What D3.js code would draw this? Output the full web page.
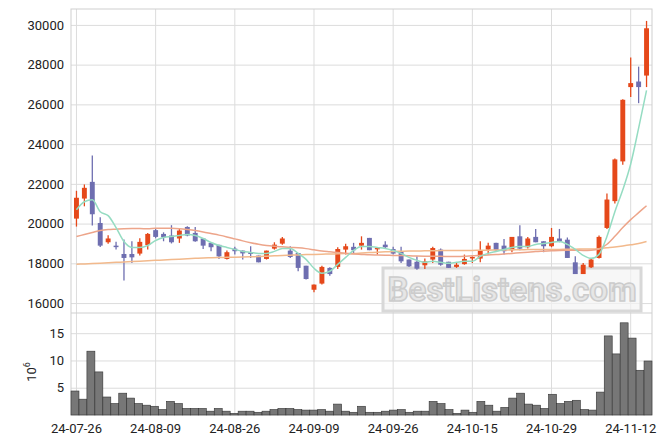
<!DOCTYPE html>
<html>
<head>
<meta charset="utf-8">
<script src="https://cdn.jsdelivr.net/npm/d3@7"></script>
<style>
  body { margin: 0; background: #fff; }
  svg { font-family: Roboto, "DejaVu Sans", sans-serif; }
</style>
</head>
<body>
<svg id="chart" width="671" height="444"></svg>
<script>
// --- Data ---
const dates = [
  "24-07-26","24-07-29","24-07-30","24-07-31","24-08-01","24-08-02","24-08-05","24-08-06","24-08-07","24-08-08",
  "24-08-09","24-08-12","24-08-13","24-08-14","24-08-16","24-08-19","24-08-20","24-08-21","24-08-22","24-08-23",
  "24-08-26","24-08-27","24-08-28","24-08-29","24-08-30","24-09-02","24-09-03","24-09-04","24-09-05","24-09-06",
  "24-09-09","24-09-10","24-09-11","24-09-12","24-09-13","24-09-19","24-09-20","24-09-23","24-09-24","24-09-25",
  "24-09-26","24-09-27","24-09-30","24-10-02","24-10-04","24-10-07","24-10-08","24-10-10","24-10-11","24-10-14",
  "24-10-15","24-10-16","24-10-17","24-10-18","24-10-21","24-10-22","24-10-23","24-10-24","24-10-25","24-10-28",
  "24-10-29","24-10-30","24-10-31","24-11-01","24-11-04","24-11-05","24-11-06","24-11-07","24-11-08","24-11-11",
  "24-11-12","24-11-13","24-11-14"
];
const open  = [20250,21260,22100,20030,19060,18890,18470,18470,18490,18920,
  19670,19480,19400,19250,19830,19530,19250,19030,18930,18220,
  18740,18640,18560,18390,18220,18740,18990,18640,18520,17880,
  16670,16980,17770,17820,18690,18830,18890,19280,18770,18940,
  18720,18610,18190,18080,17900,18190,18690,18080,17820,17960,
  18270,18240,18690,19030,18890,18660,19360,18810,19330,19110,
  18860,19250,19190,18050,17460,17800,18270,19780,21130,23130,
  26870,27150,27450];
const close = [21300,21800,20470,18890,19250,18830,18270,18300,19080,19480,
  19330,19310,19060,19650,19400,19110,18890,18810,18350,18560,
  18610,18500,18470,18050,18640,18940,19250,18320,17770,17210,
  16930,17820,17460,18720,18860,18660,19030,18660,18780,18810,
  18490,18100,17850,17730,18100,18770,17930,17770,17930,18220,
  18320,18640,18890,18660,18610,19330,18740,19250,19060,18860,
  19330,19110,18270,17460,17930,18190,19330,21210,23230,26230,
  27070,26870,29830];
const high  = [21650,21970,23430,20320,19410,19080,19200,19110,19260,19530,
  19750,19560,19920,19750,19870,19830,19250,19030,18930,18640,
  18830,18640,18860,18390,18640,19060,19330,18860,18520,17880,
  16930,17880,17800,18810,18990,19030,19360,19280,18800,19110,
  18830,18830,18190,18350,18240,18830,18740,18080,18020,18440,
  18350,19110,19030,19030,19230,19330,19920,19330,19730,19110,
  19780,19730,19300,18350,18020,18270,19400,21510,23280,26260,
  28360,27900,30200];
const low   = [19850,20870,19900,18820,18990,18690,17130,18020,18390,18690,
  19260,19110,19000,19030,19360,19080,18720,18610,18220,18190,
  18440,18190,18270,18050,18190,18690,18940,18270,17600,17180,
  16540,16930,17380,17720,18440,18490,18690,18660,18440,18720,
  18440,18020,17820,17680,17720,18020,17880,17770,17770,17930,
  18020,18050,18440,18610,18440,18560,18660,18740,19060,18560,
  18810,19060,18270,17460,17460,17770,18240,19730,21010,22960,
  26370,26060,26870];
// volume in millions
const volume = [4.4,2.9,11.7,7.9,3.3,2.1,4.0,3.1,2.1,1.8,
  1.6,1.0,2.5,2.1,1.2,1.2,1.2,0.7,1.2,0.7,
  0.3,0.7,0.7,0.5,0.7,1.0,1.2,1.2,1.0,0.9,
  0.9,1.0,0.7,2.0,0.7,0.5,1.6,0.5,0.5,0.7,
  0.9,1.0,0.5,0.7,0.7,2.5,2.1,1.0,0.3,0.9,
  0.5,2.5,1.8,0.7,1.4,3.1,4.0,2.0,1.8,1.2,
  3.8,2.1,2.5,2.7,1.0,0.9,4.2,14.5,11.2,16.9,
  14.1,8.2,9.9];
const ma5 = [20700,21100,21200,20600,20400,19800,19100,18800,18800,18900,
  19150,19300,19350,19400,19450,19400,19250,19050,18900,18800,
  18700,18600,18550,18500,18500,18600,18750,18750,18500,18200,
  17750,17500,17600,17950,18300,18650,18850,18850,18800,18750,
  18650,18500,18300,18150,18050,18100,18050,18000,18050,18100,
  18100,18350,18500,18600,18700,18800,18850,18850,18950,19000,
  19050,19100,18950,18700,18400,18250,18450,19350,20600,21700,
  23000,24800,26700];
const ma20 = [19350,19450,19550,19650,19700,19720,19740,19750,19750,19740,
  19760,19760,19760,19740,19700,19650,19580,19500,19420,19330,
  19230,19130,19040,18960,18900,18860,18830,18800,18780,18740,
  18680,18620,18580,18540,18500,18470,18450,18430,18420,18410,
  18400,18390,18380,18370,18360,18350,18350,18340,18340,18350,
  18380,18400,18420,18440,18470,18500,18530,18560,18590,18610,
  18630,18650,18660,18660,18650,18660,18720,18960,19360,19800,
  20200,20550,20900];
const ma60 = [17950,17970,17990,18010,18030,18050,18070,18090,18110,18130,
  18150,18170,18190,18210,18230,18250,18270,18280,18290,18300,
  18310,18320,18330,18340,18360,18380,18400,18410,18420,18440,
  18450,18460,18470,18480,18490,18500,18520,18540,18560,18580,
  18600,18610,18620,18620,18630,18630,18640,18640,18650,18650,
  18650,18660,18660,18670,18670,18680,18680,18690,18690,18700,
  18700,18700,18710,18710,18720,18720,18740,18780,18820,18870,
  18930,19000,19100];
const priceTicks = [16000,18000,20000,22000,24000,26000,28000,30000];
const volTicks = [5,10,15];
const dateTicks = ["24-07-26","24-08-09","24-08-26","24-09-09","24-09-26","24-10-15","24-10-29","24-11-12"];

// --- Layout ---
const L = 71, R = 652, pTop = 9, pBot = 313, vTop = 313, vBot = 415;
const svg = d3.select("#chart");

const x = d3.scaleBand().domain(dates).range([L, R]).padding(0.38);
const xc = d => x(d) + x.bandwidth() / 2;
const y = d3.scaleLinear().domain([15500, 30800]).range([pBot, pTop]);
const yv = d3.scaleLinear().domain([0, 18.7]).range([vBot, vTop]);

const grid = "#dcdcdc";
// grids
svg.append("g").call(d3.axisLeft(y).tickValues(priceTicks).tickSize(-(R - L)).tickFormat(""))
  .attr("transform", `translate(${L},0)`)
  .call(g => g.select(".domain").remove())
  .call(g => g.selectAll("line").attr("stroke", grid));
svg.append("g").call(d3.axisLeft(yv).tickValues(volTicks).tickSize(-(R - L)).tickFormat(""))
  .attr("transform", `translate(${L},0)`)
  .call(g => g.select(".domain").remove())
  .call(g => g.selectAll("line").attr("stroke", grid));
svg.append("g").selectAll("line").data(dateTicks).join("line")
  .attr("x1", xc).attr("x2", xc).attr("y1", pTop).attr("y2", vBot).attr("stroke", grid);

// frame
svg.append("rect").attr("x", L).attr("y", pTop).attr("width", R - L).attr("height", vBot - pTop)
  .attr("fill", "none").attr("stroke", "#cfcfcf");
svg.append("line").attr("x1", L).attr("x2", R).attr("y1", pBot).attr("y2", pBot).attr("stroke", "#cfcfcf");

// watermark
const wm = svg.append("g");
wm.append("rect").attr("x", 383).attr("y", 268).attr("width", 258).attr("height", 43)
  .attr("fill", "#f4f4f4").attr("fill-opacity", 0.7).attr("stroke", "#d8d8d8").attr("stroke-width", 3);
wm.append("text").attr("x", 512).attr("y", 301).attr("text-anchor", "middle")
  .attr("font-size", 33).attr("font-weight", "bold").attr("fill", "#e6e6e6")
  .attr("stroke", "#cccccc").attr("stroke-width", 1.5).text("BestListens.com");

// axes labels
svg.append("g").attr("transform", `translate(${L},0)`)
  .call(d3.axisLeft(y).tickValues(priceTicks).tickSize(0).tickPadding(7).tickFormat(d3.format("d")))
  .call(g => g.select(".domain").remove())
  .call(g => g.selectAll("text").attr("font-size", 13).attr("fill", "#222").attr("font-family", "Roboto"));
svg.append("g").attr("transform", `translate(${L},0)`)
  .call(d3.axisLeft(yv).tickValues(volTicks).tickSize(0).tickPadding(7))
  .call(g => g.select(".domain").remove())
  .call(g => g.selectAll("text").attr("font-size", 13).attr("fill", "#222").attr("font-family", "Roboto"));
svg.append("g").attr("transform", `translate(0,${vBot})`)
  .call(d3.axisBottom(x).tickValues(dateTicks).tickSize(0).tickPadding(9))
  .call(g => g.select(".domain").remove())
  .call(g => g.selectAll("text").attr("font-size", 13).attr("fill", "#222").attr("font-family", "Roboto"));
svg.append("text").attr("transform", "translate(36,372) rotate(-90)").attr("text-anchor", "middle")
  .attr("font-size", 13).attr("fill", "#222")
  .html('10<tspan dy="-6" font-size="9">6</tspan>');

// volume bars
const vb = d3.scaleBand().domain(dates).range([L, R]).padding(0);
svg.append("g").selectAll("rect").data(volume).join("rect")
  .attr("x", (d, i) => vb(dates[i])).attr("width", vb.bandwidth())
  .attr("y", d => yv(d)).attr("height", d => vBot - yv(d))
  .attr("fill", "#777").attr("stroke", "#333").attr("stroke-width", 0.6);

// candles
const up = "#e5481a", down = "#6e6eb0";
const idx = d3.range(dates.length);
const cg = svg.append("g");
cg.selectAll("line").data(idx).join("line")
  .attr("x1", i => xc(dates[i])).attr("x2", i => xc(dates[i]))
  .attr("y1", i => y(high[i])).attr("y2", i => y(low[i]))
  .attr("stroke", i => close[i] >= open[i] ? up : down).attr("stroke-width", 1.3);
cg.selectAll("rect").data(idx).join("rect")
  .attr("x", i => x(dates[i])).attr("width", x.bandwidth())
  .attr("y", i => y(Math.max(open[i], close[i])))
  .attr("height", i => Math.max(1.5, Math.abs(y(open[i]) - y(close[i]))))
  .attr("fill", i => close[i] >= open[i] ? up : down);

// moving averages
const line = d3.line().x((d, i) => xc(dates[i])).y(d => y(d)).curve(d3.curveMonotoneX);
[[ma60, "#f2b98c"], [ma20, "#eda58a"], [ma5, "#95dcc2"]].forEach(([s, c]) => {
  svg.append("path").datum(s).attr("d", line).attr("fill", "none")
    .attr("stroke", c).attr("stroke-width", 1.5);
});
</script>
</body>
</html>
